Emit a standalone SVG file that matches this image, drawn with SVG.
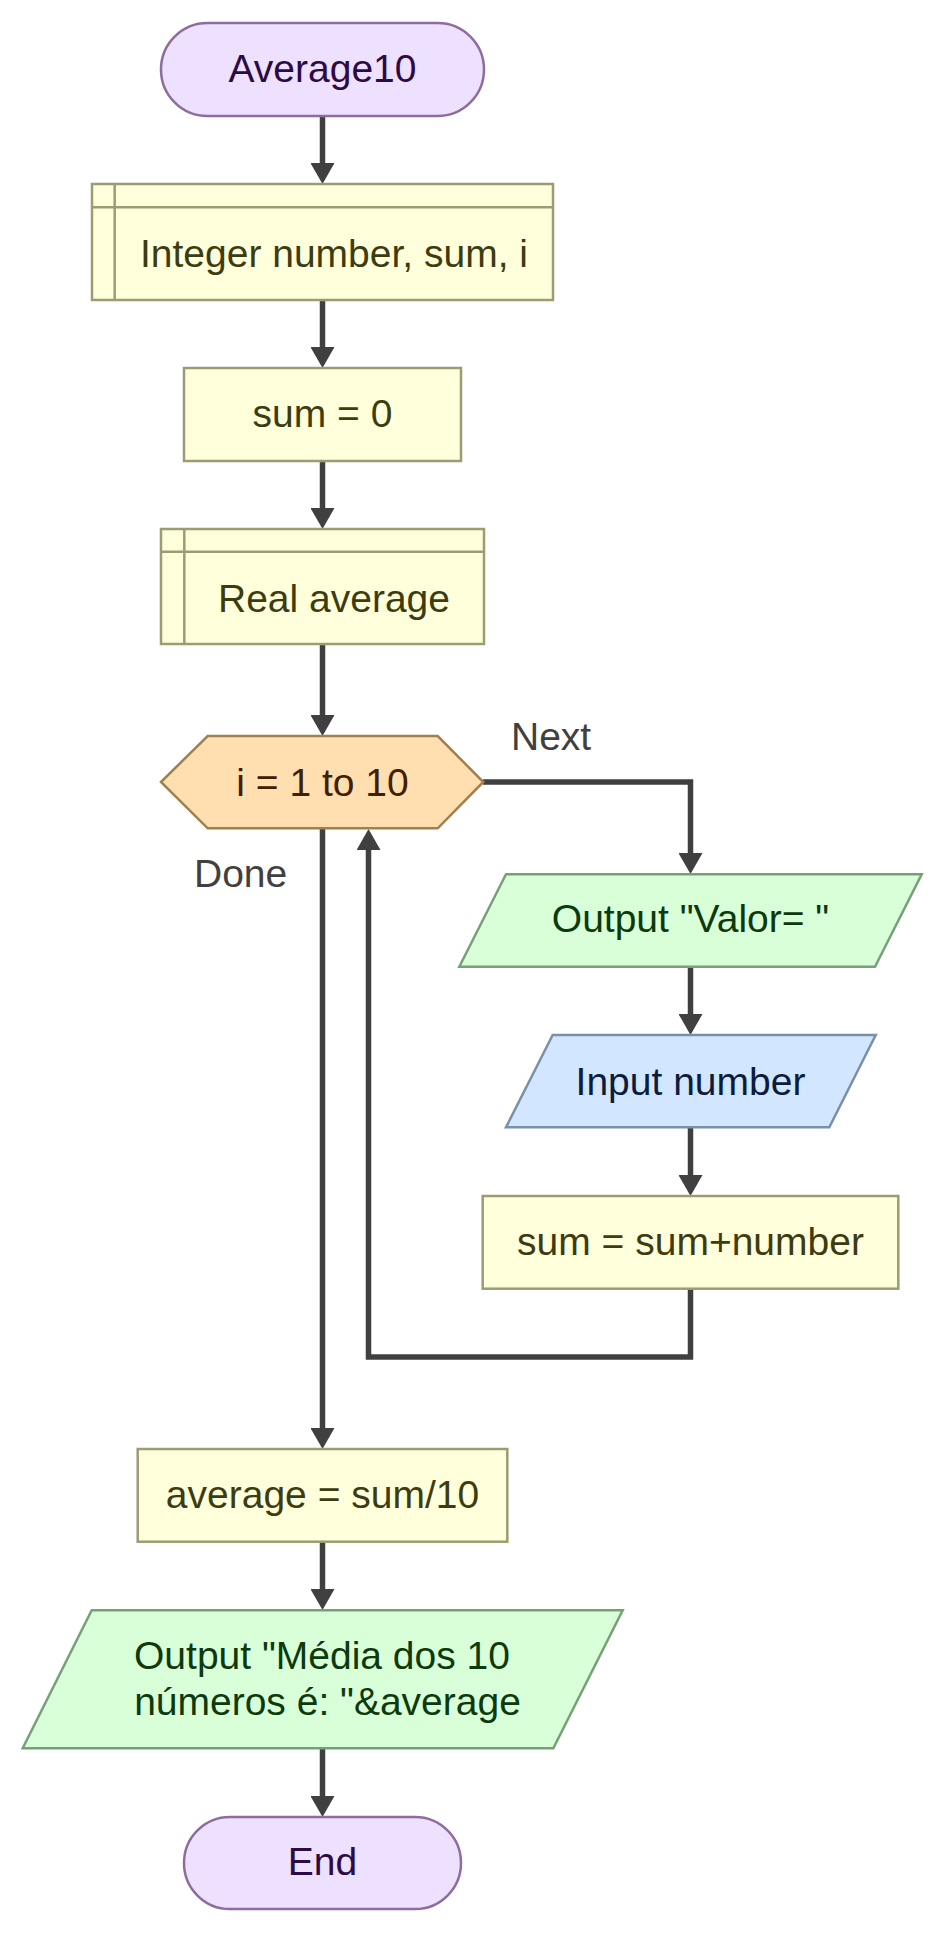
<svg xmlns="http://www.w3.org/2000/svg" width="944" height="1933" viewBox="0 0 944 1933">
<defs>
<style>
.t{font-family:"Liberation Sans",Arial,sans-serif;font-size:39px;text-anchor:middle}
.lbl{font-family:"Liberation Sans",Arial,sans-serif;font-size:39px;fill:#404040}
.term{fill:#eee0ff;stroke:#8e6c9e;stroke-width:2.5}
.term-t{fill:#2c0a44}
.proc{fill:#ffffdc;stroke:#9c9c74;stroke-width:2.5}
.proc-t{fill:#3c3c10}
.loop{fill:#ffdfb0;stroke:#a08050;stroke-width:2.5}
.loop-t{fill:#402000}
.out{fill:#d9ffd9;stroke:#78a078;stroke-width:2.5}
.out-t{fill:#0c3a0c}
.in{fill:#d2e7ff;stroke:#7890a8;stroke-width:2.5}
.in-t{fill:#0c1c3c}
.edge{fill:none;stroke:#404040;stroke-width:5.5;marker-end:url(#arr)}
</style>
<marker id="arr" markerUnits="userSpaceOnUse" viewBox="0 0 21 24" refX="0" refY="12" markerWidth="21" markerHeight="24" orient="auto">
<path d="M0,0 L21,12 L0,24 Z" fill="#404040"/>
</marker>
</defs>

<g id="connectors">
<path class="edge" d="M322.5,116 V163"/>
<path class="edge" d="M322.5,300 V347"/>
<path class="edge" d="M322.5,461 V508"/>
<path class="edge" d="M322.5,644 V715"/>
<path class="edge" d="M483,782 H690.5 V853"/>
<path class="edge" d="M690.5,967 V1014"/>
<path class="edge" d="M690.5,1127 V1175"/>
<path class="edge" d="M690.5,1288.5 V1357 H368.5 V850"/>
<path class="edge" d="M322.5,828 V1428"/>
<path class="edge" d="M322.5,1541.5 V1589"/>
<path class="edge" d="M322.5,1748 V1796"/>
<text class="lbl" x="511" y="750">Next</text>
<text class="lbl" x="194" y="887">Done</text>
</g>

<g id="start">
<rect class="term" x="161" y="23" width="323" height="93" rx="46.5"/>
<text class="t term-t" x="322.5" y="82">Average10</text>
</g>

<g id="declare1">
<rect class="proc" x="92" y="184" width="461" height="116"/>
<line class="proc" x1="114.7" y1="184" x2="114.7" y2="300"/>
<line class="proc" x1="92" y1="207.3" x2="553" y2="207.3"/>
<text class="t proc-t" x="334" y="266.5">Integer number, sum, i</text>
</g>

<g id="assign1">
<rect class="proc" x="184" y="368" width="277" height="93"/>
<text class="t proc-t" x="322.5" y="427.3">sum = 0</text>
</g>

<g id="declare2">
<rect class="proc" x="161" y="529" width="323" height="115"/>
<line class="proc" x1="184.3" y1="529" x2="184.3" y2="644"/>
<line class="proc" x1="161" y1="551.7" x2="484" y2="551.7"/>
<text class="t proc-t" x="334" y="611.7">Real average</text>
</g>

<g id="for">
<polygon class="loop" points="161,782 207.7,736 437.7,736 483.3,782 437.7,828.3 207.7,828.3"/>
<text class="t loop-t" x="322.5" y="795.7">i = 1 to 10</text>
</g>

<g id="output1">
<polygon class="out" points="506,874.3 921.7,874.3 875,966.7 459.3,966.7"/>
<text class="t out-t" x="690.5" y="932.3">Output "Valor= "</text>
</g>

<g id="input1">
<polygon class="in" points="552.7,1035 875.7,1035 829.3,1127.3 506,1127.3"/>
<text class="t in-t" x="690.5" y="1095">Input number</text>
</g>

<g id="assign2">
<rect class="proc" x="482.7" y="1196" width="415.6" height="92.7"/>
<text class="t proc-t" x="690.5" y="1255">sum = sum+number</text>
</g>

<g id="assign3">
<rect class="proc" x="137.7" y="1449" width="369.6" height="92.7"/>
<text class="t proc-t" x="322.5" y="1508.3">average = sum/10</text>
</g>

<g id="output2">
<polygon class="out" points="91.7,1610.3 622.7,1610.3 553.3,1748.3 22.7,1748.3"/>
<text class="t out-t" x="322" y="1669.3">Output "Média dos 10</text>
<text class="t out-t" x="327.5" y="1715">números é: "&amp;average</text>
</g>

<g id="end">
<rect class="term" x="184" y="1817" width="277" height="92" rx="46"/>
<text class="t term-t" x="322.5" y="1875">End</text>
</g>
</svg>
